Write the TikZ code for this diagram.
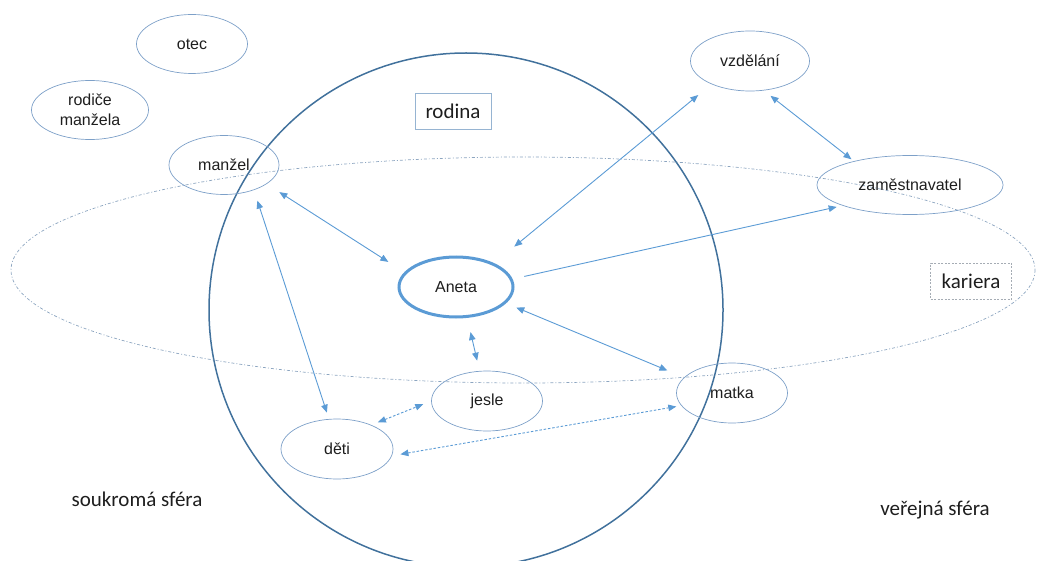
\documentclass[tikz,border=0pt]{standalone}
\usepackage{fontspec}
\setmainfont{Liberation Sans}
\newfontfamily\calibri{Carlito}
\usetikzlibrary{arrows.meta,shapes.geometric}

\definecolor{bubbleline}{RGB}{125,160,200}
\definecolor{arrowblue}{RGB}{91,155,213}
\definecolor{circleline}{RGB}{65,113,156}
\definecolor{karline}{RGB}{140,165,192}
\definecolor{boxline}{RGB}{150,180,210}
\definecolor{dashbox}{RGB}{165,172,180}
\definecolor{labeltext}{RGB}{30,30,30}

\begin{document}
\begin{tikzpicture}[x=1pt,y=-1pt,
  bubble/.style={ellipse, draw=bubbleline, line width=0.7pt, inner sep=0pt,
    minimum width=111pt, minimum height=59pt, align=center,
    font=\fontsize{16}{19.5}\selectfont, text=labeltext},
  tip/.tip={Triangle[length=8pt,width=6.5pt]},
  link/.style={draw=arrowblue, line width=0.9pt, tip-tip},
  onelink/.style={draw=arrowblue, line width=0.9pt, -tip},
  dotlink/.style={link, dash pattern=on 2.5pt off 1.8pt},
  sphere/.style={font=\calibri\fontsize{21}{25}\selectfont, text=labeltext, inner sep=0pt},
  tag/.style={sphere, minimum height=36pt, inner sep=4pt}
]
\useasboundingbox (0,0) rectangle (1040,561);

% family circle and career ellipse
\draw[circleline, line width=1.5pt] (466,310) circle [radius=257];
\draw[karline, line width=0.7pt, dash pattern=on 3pt off 2pt on 1pt off 2pt]
  (523,270) ellipse [x radius=512, y radius=113];

% people and institutions
\node[bubble] (otec) at (192,44) {otec};
\node[bubble, minimum width=117pt] (rodice) at (90,110) {rodiče\\manžela};
\node[bubble, minimum width=110pt] (manzel) at (224,165) {manžel};
\node[bubble, minimum width=119pt, minimum height=60pt] (vzdelani) at (750,61) {vzdělání};
\node[bubble, minimum width=186pt] (zam) at (910,185) {zaměstnavatel};
\node[bubble, draw=arrowblue, line width=3pt, minimum width=114pt, minimum height=60pt] (aneta) at (456,287) {Aneta};
\node[bubble, minimum height=60pt] (jesle) at (487,401) {jesle};
\node[bubble, minimum width=112pt, minimum height=60pt] (deti) at (337,449) {děti};
\node[bubble, minimum height=60pt] (matka) at (732,393) {matka};

% area labels
\node[tag, draw=boxline, line width=0.7pt, minimum width=76pt] (rodina) at (453,111) {rodina};
\node[tag, draw=dashbox, line width=0.6pt, dash pattern=on 2pt off 1.5pt, minimum width=81pt] (kariera) at (971,281) {kariera};
\node[sphere] (soukroma) at (137,499) {soukromá sféra};
\node[sphere] (verejna) at (935,510) {veřejná sféra};

% relations
\draw[link, shorten <=15pt, shorten >=19pt] (manzel.-24) -- (aneta.164);
\draw[link, shorten <=11pt, shorten >=6.6pt] (manzel.-40) -- (deti.105);
\draw[link, shorten <=26pt, shorten >=17pt] (aneta.32) -- (vzdelani.211);
\draw[link, shorten <=8.5pt, shorten >=3pt] (vzdelani.-65) -- (zam.157);
\draw[onelink, shorten <=12pt, shorten >=6pt] (aneta.8.5) -- (zam.197);
\draw[link, shorten <=11pt, shorten >=18pt] (aneta.-18) -- (matka.162);
\draw[link, shorten <=14.5pt, shorten >=10.5pt] (aneta.-70) -- (jesle.104);
\draw[dotlink, shorten <=7pt, shorten >=8.5pt] (deti.35) -- (jesle.180);
\draw[dotlink, shorten <=8.6pt, shorten >=5pt] (deti.-7) -- (matka.194);
\end{tikzpicture}
\end{document}
